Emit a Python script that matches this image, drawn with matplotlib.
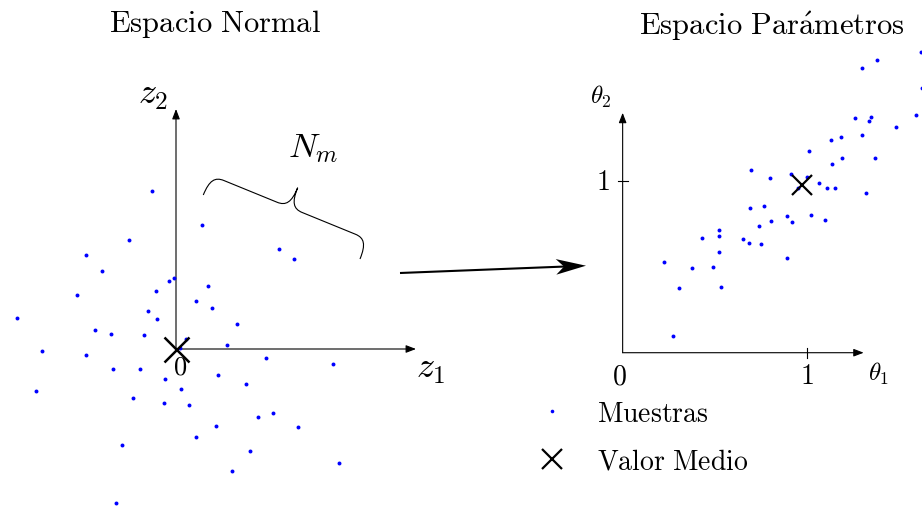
import numpy as np
import matplotlib
matplotlib.use("Agg")
import matplotlib.pyplot as plt
from matplotlib.patches import FancyArrowPatch, PathPatch, Polygon
from matplotlib.path import Path
from matplotlib.lines import Line2D

plt.rcParams["mathtext.fontset"] = "cm"

# Samples drawn in the standard normal space
z1_samples = [-0.30, 0.325, -0.59, -1.13, 1.29, 1.48, -0.925, -0.03, -0.09, -0.25,
              0.40, -1.24, 0.25, 0.45, -0.35, -0.24, -1.99, 0.76, -1.01, -0.81,
              -0.40, 0.12, 0.05, 0.64, -1.67, -1.13, 1.13, 1.96, -0.79, -0.45,
              0.53, -0.14, 0.87, 0.06, -1.75, -0.54, -0.15, 0.16, 1.02, 1.21,
              0.50, 1.525, -0.675, 0.25, 0.92, 2.04, 0.70, -0.75]
z2_samples = [1.97, 1.55, 1.36, 1.17, 1.25, 1.12, 0.98, 0.89, 0.85, 0.73,
              0.79, 0.67, 0.60, 0.51, 0.47, 0.38, 0.39, 0.31, 0.24, 0.19,
              0.175, 0.13, 0.01, 0.05, -0.03, -0.08, -0.11, -0.19, -0.25, -0.25,
              -0.33, -0.38, -0.44, -0.50, -0.53, -0.61, -0.68, -0.70, -0.85, -0.80,
              -0.96, -0.98, -1.20, -1.10, -1.27, -1.43, -1.52, -1.93]

# Same samples mapped to the parameter space
theta1_samples = [1.624, 1.299, 1.382, 1.625, 1.261, 1.349, 1.337, 1.596, 1.485, 1.299,
                  1.186, 1.130, 1.011, 1.190, 1.371, 1.139, 0.696, 0.801, 0.913, 1.000,
                  0.955, 1.067, 1.112, 1.154, 1.320, 0.766, 0.694, 1.025, 0.891, 0.922,
                  1.098, 0.808, 0.739, 0.523, 0.523, 0.429, 0.654, 0.686, 0.750, 0.523,
                  0.891, 0.226, 0.375, 0.491, 0.304, 0.534, 0.272]
theta2_samples = [1.753, 1.661, 1.710, 1.544, 1.371, 1.375, 1.350, 1.389, 1.319, 1.270,
                  1.258, 1.239, 1.175, 1.136, 1.138, 1.103, 1.068, 1.017, 1.041, 1.025,
                  0.963, 0.992, 0.959, 0.959, 0.930, 0.858, 0.844, 0.805, 0.799, 0.764,
                  0.774, 0.770, 0.737, 0.718, 0.683, 0.669, 0.661, 0.640, 0.634, 0.586,
                  0.554, 0.531, 0.494, 0.502, 0.377, 0.383, 0.099]

mean_normal = (0.0, 0.0)
mean_param = (0.973, 0.978)
param_ticks = [1]

titles = [r"$\mathrm{Espacio\ Normal}$", r"$\mathrm{Espacio\ Par\acute{a}metros}$"]
legend_labels = [r"$\mathrm{Muestras}$", r"$\mathrm{Valor\ Medio}$"]

W, H = 922, 510
fig = plt.figure(figsize=(W / 100, H / 100), dpi=100)

# Left panel: standard normal space (80 px per unit)
axL = fig.add_axes([0, 0, 460 / W, 1])
axL.set_xlim(-2.2, 3.55)
axL.set_ylim(-2.0, 4.375)
axL.axis("off")

# Right panel: parameter space
axR = fig.add_axes([460 / W, 0, 462 / W, 1])
axR.set_xlim(-0.884, 1.627)
axR.set_ylim(-0.912, 2.064)
axR.axis("off")

# Overlay in pixel units for titles, connectors and the legend
axO = fig.add_axes([0, 0, 1, 1], zorder=5)
axO.set_xlim(0, W)
axO.set_ylim(H, 0)
axO.axis("off")
axO.patch.set_alpha(0)

dot_kw = dict(color="blue", s=8, linewidths=0, zorder=3)

def axis_arrow(ax, start, end):
    ax.add_patch(FancyArrowPatch(start, end,
                                 arrowstyle="-|>,head_length=6,head_width=2.3",
                                 mutation_scale=1, lw=0.8, color="black",
                                 shrinkA=0, shrinkB=0, zorder=2))

# ---- left panel
axis_arrow(axL, (0, 0), (3.0, 0))
axis_arrow(axL, (0, 0), (0, 3.0))
axL.scatter(z1_samples, z2_samples, **dot_kw)
axL.plot(*mean_normal, marker="x", ms=18, mew=1.8, color="black", zorder=4)
axL.text(0.05, -0.06, r"$0$", fontsize=19, ha="center", va="top")
axL.text(3.18, -0.02, r"$z_1$", fontsize=26, ha="center", va="top")
axL.text(-0.29, 2.98, r"$z_2$", fontsize=26, ha="center", va="bottom")

# curly brace above the upper samples
A = np.array([0.341, 1.925])
B = np.array([2.30, 1.125])
L = np.linalg.norm(B - A)
u_hat = (B - A) / L
n_hat = np.array([-u_hat[1], u_hat[0]])
h, a = 0.53, 0.17
q = h / 2
local = [(0, 0), (0, q * 0.75), (a * 0.3, q), (a, q),
         (L / 2 - a, q),
         (L / 2 - a * 0.3, q), (L / 2, q * 1.25), (L / 2, h),
         (L / 2, q * 1.25), (L / 2 + a * 0.3, q), (L / 2 + a, q),
         (L - a, q),
         (L - a * 0.3, q), (L, q * 0.75), (L, 0)]
codes = [Path.MOVETO, Path.CURVE4, Path.CURVE4, Path.CURVE4,
         Path.LINETO,
         Path.CURVE4, Path.CURVE4, Path.CURVE4,
         Path.CURVE4, Path.CURVE4, Path.CURVE4,
         Path.LINETO,
         Path.CURVE4, Path.CURVE4, Path.CURVE4]
verts = [A + uu * u_hat + vv * n_hat for uu, vv in local]
axL.add_patch(PathPatch(Path(verts, codes), fill=False, lw=0.8, color="black"))
tip = A + (L / 2) * u_hat + h * n_hat
axL.text(tip[0] + 0.2, tip[1] + 0.3, r"$N_m$", fontsize=25, ha="center", va="bottom")

# ---- right panel
axis_arrow(axR, (0, 0), (1.31, 0))
axis_arrow(axR, (0, 0), (0, 1.40))
for t in param_ticks:
    axR.plot([t, t], [-0.028, 0.028], color="black", lw=0.8)
    axR.plot([-0.027, 0.027], [t, t], color="black", lw=0.8)
    axR.text(t, -0.05, rf"${t}$", fontsize=20, ha="center", va="top")
    axR.text(-0.07, t, rf"${t}$", fontsize=20, ha="right", va="center")
axR.text(-0.02, -0.05, r"$0$", fontsize=20, ha="center", va="top")
axR.text(1.39, -0.04, r"$\theta_1$", fontsize=18, ha="center", va="top")
axR.text(-0.12, 1.42, r"$\theta_2$", fontsize=18, ha="center", va="bottom")
axR.scatter(theta1_samples, theta2_samples, **dot_kw)
axR.plot(*mean_param, marker="x", ms=15, mew=1.6, color="black", zorder=4)

# ---- titles
axO.text(215, 24, titles[0], fontsize=22, ha="center", va="center")
axO.text(772, 26, titles[1], fontsize=22, ha="center", va="center")

# ---- mapping arrow between the two spaces
p0 = np.array([400.0, 274.0])
p1 = np.array([586.0, 266.7])
d = (p1 - p0) / np.linalg.norm(p1 - p0)
nrm = np.array([-d[1], d[0]])
head_len, half_w, notch = 30.0, 7.8, 22.0
base = p1 - head_len * d
axO.plot([p0[0], (p1 - notch * d)[0]], [p0[1], (p1 - notch * d)[1]],
         color="black", lw=1.5, solid_capstyle="butt")
axO.add_patch(Polygon([p1, base + half_w * nrm, p1 - notch * d, base - half_w * nrm],
                      closed=True, color="black", lw=0))

# ---- legend
handles = [Line2D([], [], ls="none", marker="o", ms=2.6, mew=0, color="blue"),
           Line2D([], [], ls="none", marker="x", ms=15, mew=1.6, color="black")]
fig.legend(handles, legend_labels, loc="upper left",
           bbox_to_anchor=(530 / W, 1 - 400 / H), frameon=False, fontsize=20,
           handlelength=1.6, handletextpad=0.8, labelspacing=0.72,
           borderpad=0, borderaxespad=0)

fig.savefig("out.png", dpi=100)
